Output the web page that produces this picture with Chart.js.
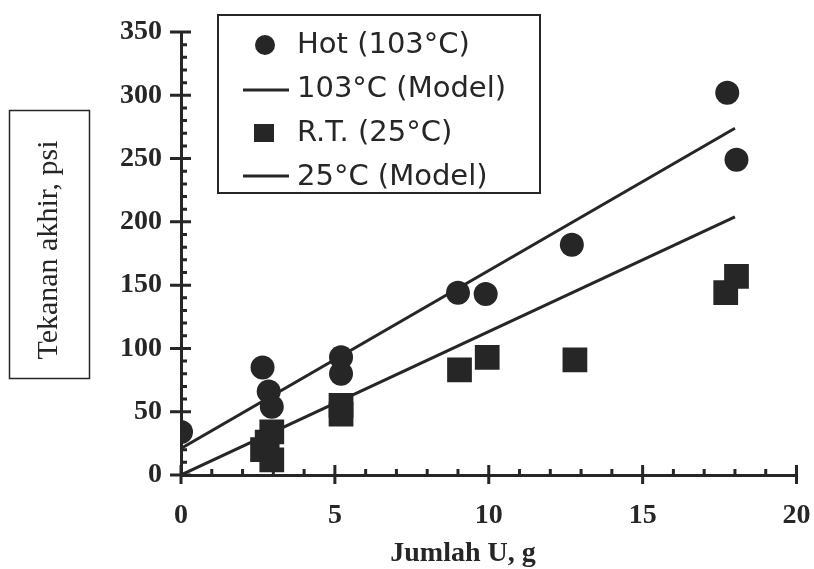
<!DOCTYPE html>
<html>
<head>
<meta charset="utf-8">
<script src="https://cdn.jsdelivr.net/npm/chart.js@4"></script>
<style>
  html, body { margin: 0; padding: 0; background: #fff; }
  #wrap { width: 814px; height: 569px; }
</style>
</head>
<body>
<div id="wrap"><canvas id="chart" width="814" height="569"></canvas></div>
<script>
// data
const hotX = [0, 2.65, 2.85, 2.95, 5.2, 5.2, 9.0, 9.9, 12.7, 17.75, 18.05];
const hotY = [34, 85, 66, 54, 93, 80, 144, 143, 182, 302, 249];
const rtX = [2.65, 2.8, 2.95, 2.95, 5.2, 5.2, 9.05, 9.95, 12.8, 17.7, 18.05];
const rtY = [20, 26, 34, 12, 55, 48, 83, 93, 91, 144, 157];
const modelX = [0, 18];
const hotModelY = [21, 274];
const rtModelY = [0, 204];
const legendLabels = ['Hot (103°C)', '103°C (Model)', 'R.T. (25°C)', '25°C (Model)'];
const xTitle = 'Jumlah U, g';
const yTitle = 'Tekanan akhir, psi';

const ink = '#262626';

function pts(xs, ys) {
    return xs.map((x, i) => ({ x: x, y: ys[i] }));
}

//tick marks, boxed y title, x title and legend
const decor = {
    id: 'decor',
    afterDraw(chart) {
        const ctx = chart.ctx;
        const xs = chart.scales.x, ys = chart.scales.y;
        const ax = xs.getPixelForValue(0), ay = ys.getPixelForValue(0);
        ctx.save();
        ctx.strokeStyle = ink;
        ctx.lineWidth = 3;
        ctx.beginPath();
        for (let v = 0; v <= 350; v += 10) {
            const py = ys.getPixelForValue(v);
            if (v % 50 === 0) { ctx.moveTo(ax - 11, py); ctx.lineTo(ax + 10, py); }
            else { ctx.moveTo(ax, py); ctx.lineTo(ax + 6, py); }
        }
        for (let v = 0; v <= 20; v += 1) {
            const px = xs.getPixelForValue(v);
            if (v % 5 === 0) { ctx.moveTo(px, ay - 10); ctx.lineTo(px, ay + 9); }
            else { ctx.moveTo(px, ay); ctx.lineTo(px, ay - 6); }
        }
        ctx.stroke();

        // y title in its box
        ctx.lineWidth = 1.5;
        ctx.strokeRect(9.5, 110.5, 80, 268);
        ctx.fillStyle = ink;
        ctx.font = '30px "Liberation Serif"';
        ctx.textAlign = 'center';
        ctx.textBaseline = 'middle';
        ctx.translate(49, 250);
        ctx.rotate(-Math.PI / 2);
        ctx.fillText(yTitle, 0, 0);
        ctx.setTransform(1, 0, 0, 1, 0, 0);

        // x title
        ctx.font = 'bold 28px "Liberation Serif"';
        ctx.textBaseline = 'alphabetic';
        ctx.fillText(xTitle, 463, 561);

        // legend
        ctx.fillStyle = '#fff';
        ctx.fillRect(218, 15, 322, 178);
        ctx.lineWidth = 2;
        ctx.strokeRect(218, 15, 322, 178);
        ctx.fillStyle = ink;
        const rows = [45, 89, 133, 177];
        ctx.beginPath();
        ctx.arc(265, rows[0], 10, 0, Math.PI * 2);
        ctx.fill();
        ctx.fillRect(254, rows[2] - 9, 20, 18);
        ctx.lineWidth = 3;
        ctx.beginPath();
        ctx.moveTo(243, rows[1] + 1); ctx.lineTo(289, rows[1] + 1);
        ctx.moveTo(243, rows[3] - 1); ctx.lineTo(289, rows[3] - 1);
        ctx.stroke();
        ctx.font = '29px "DejaVu Sans"';
        ctx.textAlign = 'left';
        ctx.textBaseline = 'middle';
        legendLabels.forEach((t, i) => ctx.fillText(t, 297, rows[i]));
        ctx.restore();
    }
};

const tickFont = { family: '"Liberation Serif"', size: 28, weight: 'bold' };

new Chart(document.getElementById('chart'), {
    type: 'scatter',
    data: {
        datasets: [
            {
                data: pts(hotX, hotY),
                pointStyle: 'circle',
                pointRadius: 12,
                backgroundColor: ink,
                borderColor: ink,
                borderWidth: 0
            },
            {
                type: 'line',
                data: pts(modelX, hotModelY),
                borderColor: ink,
                borderWidth: 3,
                pointRadius: 0,
                fill: false
            },
            {
                data: pts(rtX, rtY),
                pointStyle: 'rect',
                pointRadius: 17.5,
                backgroundColor: ink,
                borderColor: ink,
                borderWidth: 0
            },
            {
                type: 'line',
                data: pts(modelX, rtModelY),
                borderColor: ink,
                borderWidth: 3,
                pointRadius: 0,
                fill: false
            }
        ]
    },
    options: {
        responsive: false,
        animation: false,
        layout: { padding: { top: 32, right: 17, left: 0, bottom: 0 } },
        plugins: { legend: { display: false }, tooltip: { enabled: false } },
        scales: {
            x: {
                type: 'linear',
                min: 0,
                max: 20,
                grid: { display: false, drawTicks: false },
                border: { display: true, color: ink, width: 3 },
                ticks: { stepSize: 5, color: ink, font: tickFont, padding: 24, maxRotation: 0 },
                afterFit(scale) {
                    scale.height = 94;
                    scale.paddingLeft = 0;
                    scale.paddingRight = 0;
                }
            },
            y: {
                type: 'linear',
                min: 0,
                max: 350,
                grid: { display: false, drawTicks: false },
                border: { display: true, color: ink, width: 3 },
                ticks: { stepSize: 50, color: ink, font: tickFont, padding: 19 },
                afterFit(scale) {
                    scale.width = 181;
                    scale.paddingTop = 0;
                    scale.paddingBottom = 0;
                }
            }
        }
    },
    plugins: [decor]
});
</script>
</body>
</html>
